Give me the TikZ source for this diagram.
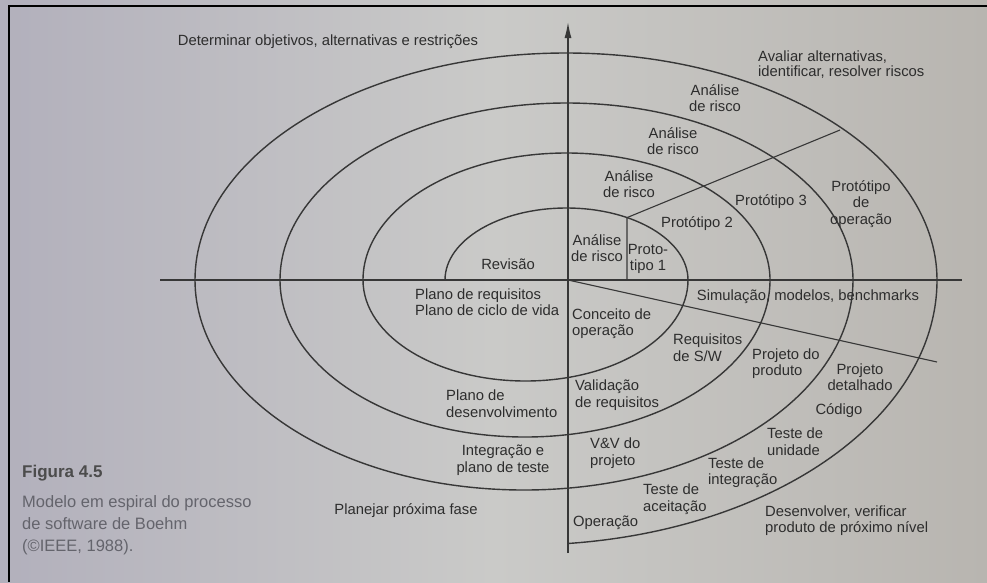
\documentclass[tikz,border=0pt]{standalone}
\usepackage{fontspec}
\setmainfont{Liberation Sans}
\usetikzlibrary{arrows.meta}
\definecolor{bgL}{RGB}{178,176,188}
\definecolor{bgM}{RGB}{202,202,200}
\definecolor{bgR}{RGB}{184,181,176}
\definecolor{ink}{RGB}{55,55,55}
\definecolor{txt}{RGB}{45,45,45}
\definecolor{capc}{RGB}{100,100,108}
\begin{document}
\begin{tikzpicture}[x=1pt,y=-1pt,
  curve/.style={draw=ink, line width=1.4pt},
  thinline/.style={draw=ink, line width=1.1pt},
  lbl/.style={text=txt, font=\fontsize{14.8}{16.5}\selectfont, inner sep=0pt, align=center},
  lbll/.style={lbl, align=left, anchor=west},
  capstyle/.style={text=capc, inner sep=0pt, anchor=west, align=left},
]
\useasboundingbox (0,0) rectangle (987,582);
\shade[left color=bgL, right color=bgR, middle color=bgM] (0,0) rectangle (987,582);
% frame
\draw[black, line width=2.5pt] (987,6) -- (9,6) -- (9,582);
% axes
\coordinate (hl) at (160,280);
\coordinate (hr) at (962,280);
\coordinate (vb) at (568,553);
\coordinate (vt) at (568,22);
\coordinate (o) at (568,280);
\draw[curve] (hl) -- (hr);
\draw[curve, -{Latex[length=16pt,width=7pt]}] (vb) -- (vt);
% spiral
\coordinate (s0) at (445,280);
\draw[curve] (s0) arc[start angle=180,end angle=360,x radius=121.5,y radius=72]
  arc[start angle=0,end angle=180,x radius=162.5,y radius=101]
  arc[start angle=180,end angle=360,x radius=203.5,y radius=127]
  arc[start angle=0,end angle=180,x radius=245,y radius=157]
  arc[start angle=180,end angle=360,x radius=286.5,y radius=177]
  arc[start angle=0,end angle=180,x radius=329,y radius=210]
  arc[start angle=180,end angle=360,x radius=371,y radius=227]
  arc[start angle=0,end angle=83.9,x radius=413,y radius=265];
% radial lines
\coordinate (pA) at (627,280);
\coordinate (pB) at (627,217.6);
\coordinate (pC) at (840,130);
\coordinate (pD) at (937,362);
\draw[thinline] (pA) -- (pB) -- (pC);
\draw[thinline] (o) -- (pD);
% labels
\node[lbl] (det) at (328,42) {Determinar objetivos, alternativas e restrições};
\node[lbll, font=\fontsize{14.8}{15.5}\selectfont] (aval) at (758,64.5) {Avaliar alternativas,\\identificar, resolver riscos};
\node[lbl] (ar4) at (715,98) {Análise\\de risco};
\node[lbl] (ar3) at (673,141) {Análise\\de risco};
\node[lbl] (ar2) at (629,184) {Análise\\de risco};
\node[lbl] (ar1) at (597,248) {Análise\\de risco};
\node[lbl] (pt1) at (648,259) {Proto-\\tipo 1};
\node[lbl] (pt2) at (697,224) {Protótipo 2};
\node[lbl] (pt3) at (771,202) {Protótipo 3};
\node[lbl] (pop) at (861,204) {Protótipo\\de\\operação};
\node[lbl] (rev) at (508,264) {Revisão};
\node[lbl] (sim) at (808,297) {Simulação, modelos, benchmarks};
\node[lbll] (preq) at (415,302) {Plano de requisitos\\Plano de ciclo de vida};
\node[lbll] (conc) at (572,323.5) {Conceito de\\operação};
\node[lbll] (rsw) at (673,347.5) {Requisitos\\de S/W};
\node[lbll] (pprod) at (752,363.5) {Projeto do\\produto};
\node[lbl] (pdet) at (860,377) {Projeto\\detalhado};
\node[lbl] (cod) at (839,411) {Código};
\node[lbll] (tu) at (767,441.5) {Teste de\\unidade};
\node[lbll] (ti) at (708,472.5) {Teste de\\integração};
\node[lbll] (ta) at (643,499) {Teste de\\aceitação};
\node[lbll] (op) at (573,523) {Operação};
\node[lbll] (dev) at (765,520.5) {Desenvolver, verificar\\produto de próximo nível};
\node[lbll] (vv) at (590,453) {V\&V do\\projeto};
\node[lbll] (val) at (575,395) {Validação\\de requisitos};
\node[lbll] (pdes) at (446,403.5) {Plano de\\desenvolvimento};
\node[lbl] (integ) at (503,460) {Integração e\\plano de teste};
\node[lbl] (pprox) at (406,511) {Planejar próxima fase};
% caption
\node[capstyle, text=black!70, font=\bfseries\fontsize{17}{20}\selectfont] (fig) at (22,473) {Figura 4.5};
\node[capstyle, font=\fontsize{16.5}{22}\selectfont] (capt) at (22,525) {Modelo em espiral do processo\\de software de Boehm\\(©IEEE, 1988).};
\end{tikzpicture}
\end{document}
